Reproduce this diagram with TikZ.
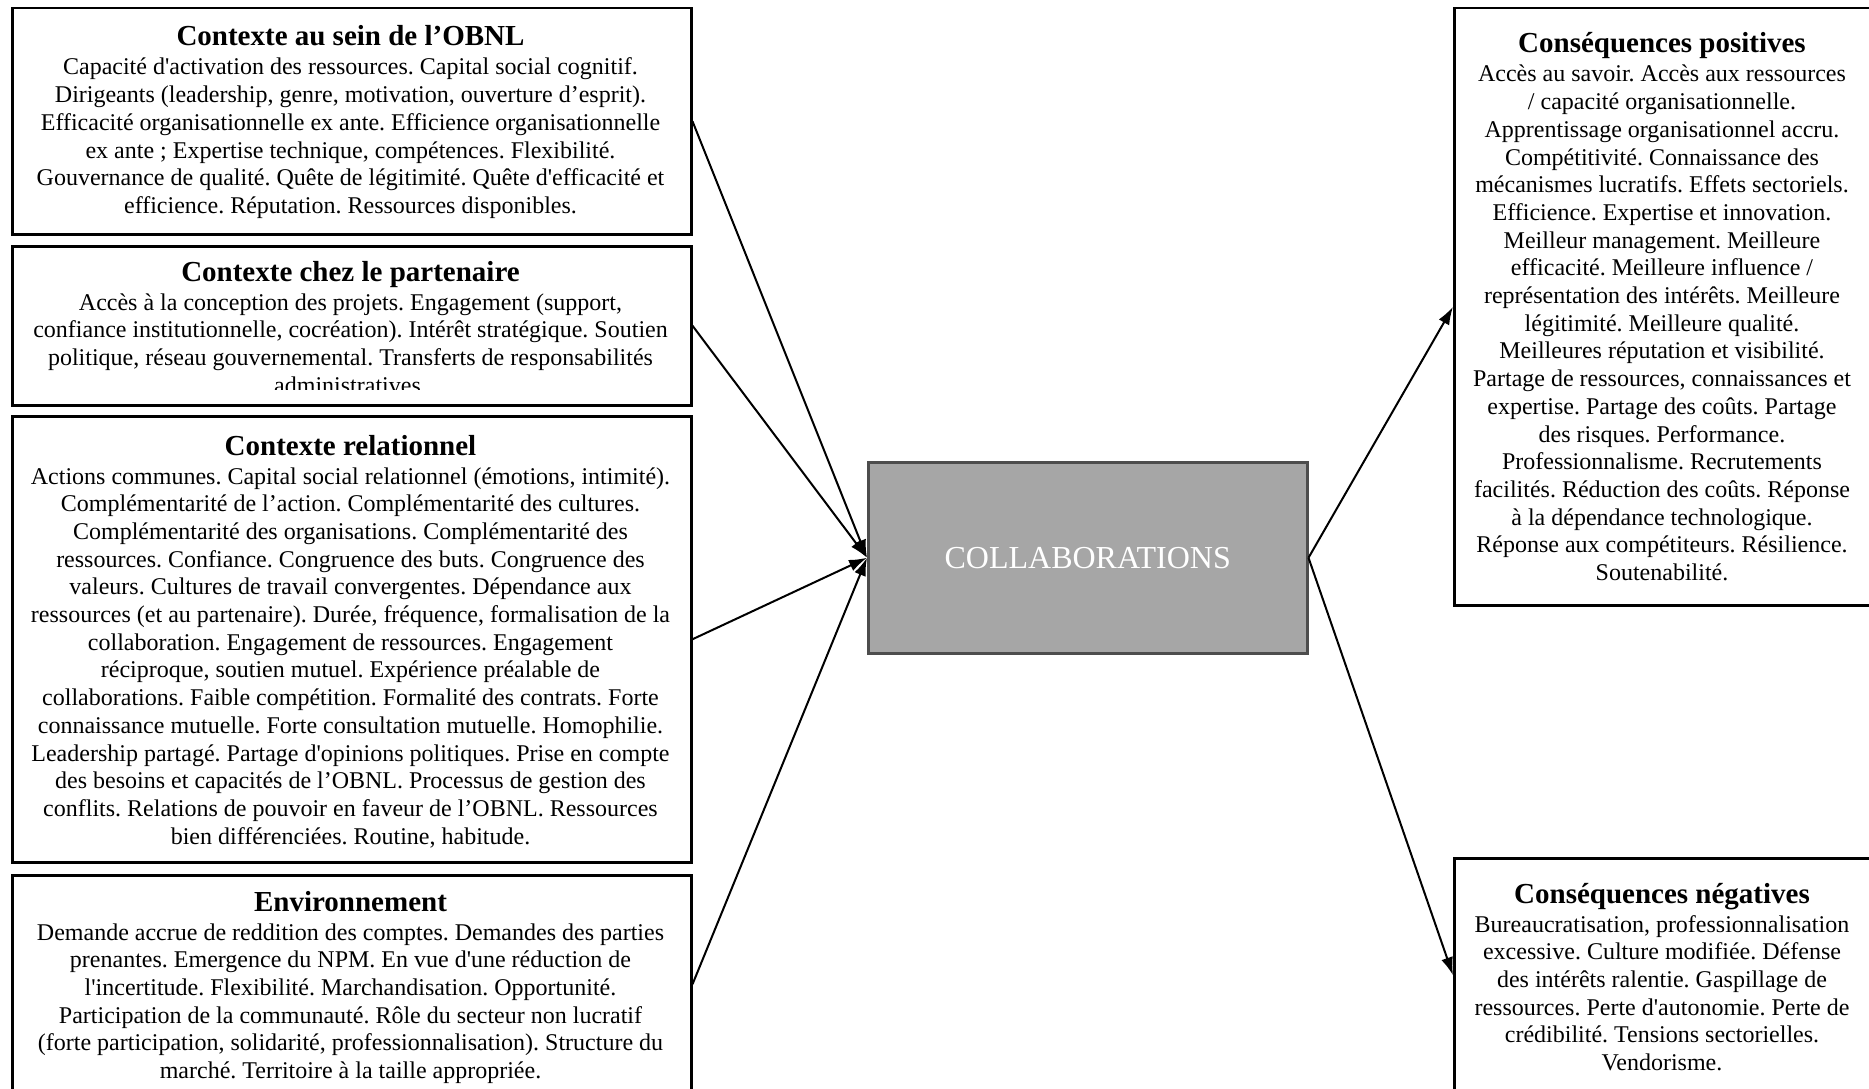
\documentclass[tikz,border=0pt]{standalone}
\usepackage{fontspec}
\setmainfont{Liberation Serif}[Ligatures=TeXOff]
\usetikzlibrary{arrows.meta}
\definecolor{cfill}{HTML}{A6A6A6}
\definecolor{cborder}{HTML}{4D4D4D}
\frenchspacing
\tikzset{
  box/.style={draw=black, line width=2.5pt, rectangle, inner sep=0pt, anchor=north west},
  txt/.style={inner sep=0pt, anchor=base, font=\fontsize{24}{27.7}\selectfont\frenchspacing},
  arr/.style={line width=2pt, -{Latex[length=18pt,width=12pt]}},
  centerbox/.style={draw=cborder, fill=cfill, line width=2.5pt, rectangle, inner sep=0pt, anchor=north west,
     text=white, font=\fontsize{32}{36}\selectfont},
}
\newcommand{\ttl}[1]{{\fontsize{29}{31}\selectfont\bfseries #1}}
\begin{document}
\begin{tikzpicture}[x=1pt,y=-1pt]
\useasboundingbox (0,0) rectangle (1869,1089);
\fill[white] (0,0) rectangle (1869,1089);
\clip (0,0) rectangle (1869,1089);

% left boxes
\node[box, minimum width=679pt, minimum height=226pt] (b1) at (11,7) {};
\node[box, minimum width=679pt, minimum height=159pt] (b2) at (11,245) {};
\node[box, minimum width=679pt, minimum height=446pt] (b3) at (11,415) {};
\node[box, minimum width=679pt, minimum height=218pt] (b4) at (11,874) {};
% right boxes
\node[box, minimum width=418pt, minimum height=597pt] (pos) at (1453,7) {};
\node[box, minimum width=418pt, minimum height=234pt] (neg) at (1453,857) {};
% center
\node[centerbox, minimum width=439pt, minimum height=191pt] (c) at (867,461) {COLLABORATIONS};

% texts
\node[txt] (t1) at (350.5,46) {\begin{tabular}[t]{@{}c@{}}
\ttl{Contexte au sein de l’OBNL}\\[1.3pt]
Capacité d'activation des ressources. Capital social cognitif.\\
Dirigeants (leadership, genre, motivation, ouverture d’esprit).\\
Efficacité organisationnelle ex ante. Efficience organisationnelle\\
ex ante ; Expertise technique, compétences. Flexibilité.\\
Gouvernance de qualité. Quête de légitimité. Quête d'efficacité et\\
efficience. Réputation. Ressources disponibles.
\end{tabular}};

\begin{scope}
\clip (11,245) rectangle (690,389);
\node[txt] (t2) at (350.5,281) {\begin{tabular}[t]{@{}c@{}}
\ttl{Contexte chez le partenaire}\\[1.3pt]
Accès à la conception des projets. Engagement (support,\\
confiance institutionnelle, cocréation). Intérêt stratégique. Soutien\\
politique, réseau gouvernemental. Transferts de responsabilités\\
administratives.
\end{tabular}};
\end{scope}

\node[txt] (t3) at (350.5,455) {\begin{tabular}[t]{@{}c@{}}
\ttl{Contexte relationnel}\\[1.3pt]
Actions communes. Capital social relationnel (émotions, intimité).\\
Complémentarité de l’action. Complémentarité des cultures.\\
Complémentarité des organisations. Complémentarité des\\
ressources. Confiance. Congruence des buts. Congruence des\\
valeurs. Cultures de travail convergentes. Dépendance aux\\
ressources (et au partenaire). Durée, fréquence, formalisation de la\\
collaboration. Engagement de ressources. Engagement\\
réciproque, soutien mutuel. Expérience préalable de\\
collaborations. Faible compétition. Formalité des contrats. Forte\\
connaissance mutuelle. Forte consultation mutuelle. Homophilie.\\
Leadership partagé. Partage d'opinions politiques. Prise en compte\\
des besoins et capacités de l’OBNL. Processus de gestion des\\
conflits. Relations de pouvoir en faveur de l’OBNL. Ressources\\
bien différenciées. Routine, habitude.
\end{tabular}};

\node[txt] (t4) at (350.5,911) {\begin{tabular}[t]{@{}c@{}}
\ttl{Environnement}\\[1.3pt]
Demande accrue de reddition des comptes. Demandes des parties\\
prenantes. Emergence du NPM. En vue d'une réduction de\\
l'incertitude. Flexibilité. Marchandisation. Opportunité.\\
Participation de la communauté. Rôle du secteur non lucratif\\
(forte participation, solidarité, professionnalisation). Structure du\\
marché. Territoire à la taille appropriée.
\end{tabular}};

\node[txt] (t5) at (1662,53) {\begin{tabular}[t]{@{}c@{}}
\ttl{Conséquences positives}\\[1.3pt]
Accès au savoir. Accès aux ressources\\
/ capacité organisationnelle.\\
Apprentissage organisationnel accru.\\
Compétitivité. Connaissance des\\
mécanismes lucratifs. Effets sectoriels.\\
Efficience. Expertise et innovation.\\
Meilleur management. Meilleure\\
efficacité. Meilleure influence /\\
représentation des intérêts. Meilleure\\
légitimité. Meilleure qualité.\\
Meilleures réputation et visibilité.\\
Partage de ressources, connaissances et\\
expertise. Partage des coûts. Partage\\
des risques. Performance.\\
Professionnalisme. Recrutements\\
facilités. Réduction des coûts. Réponse\\
à la dépendance technologique.\\
Réponse aux compétiteurs. Résilience.\\
Soutenabilité.
\end{tabular}};

\node[txt] (t6) at (1662,903) {\begin{tabular}[t]{@{}c@{}}
\ttl{Conséquences négatives}\\[1.3pt]
Bureaucratisation, professionnalisation\\
excessive. Culture modifiée. Défense\\
des intérêts ralentie. Gaspillage de\\
ressources. Perte d'autonomie. Perte de\\
crédibilité. Tensions sectorielles.\\
Vendorisme.
\end{tabular}};

% connectors
\draw[arr] (b1.east) -- (c.west);
\draw[arr] (b2.east) -- (c.west);
\draw[arr] (b3.east) -- (c.west);
\draw[arr] (b4.east) -- (c.west);
\draw[arr] (c.east) -- (pos.west);
\draw[arr] (c.east) -- (neg.west);
\end{tikzpicture}
\end{document}
